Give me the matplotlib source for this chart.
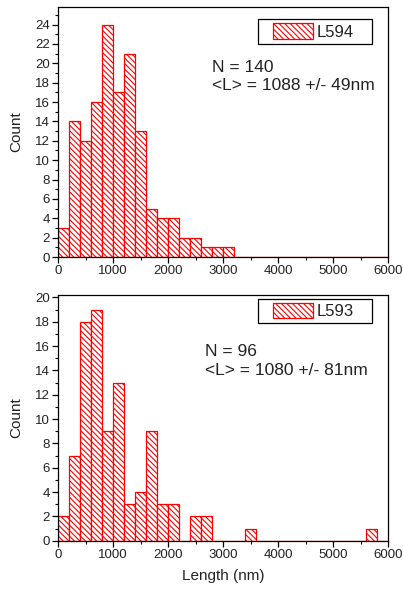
import numpy as np
import matplotlib.pyplot as plt
from matplotlib.ticker import MultipleLocator

plt.rcParams['font.family'] = ['Liberation Sans', 'DejaVu Sans']
plt.rcParams['hatch.linewidth'] = 0.8

# bin left edges (nm), bin width 200
binLefts = list(range(0, 6000, 200))
binWidth = 200

countsL594 = [3, 14, 12, 16, 24, 17, 21, 13, 5, 4, 4, 2, 2, 1, 1, 1,
              0, 0, 0, 0, 0, 0, 0, 0, 0, 0, 0, 0, 0, 0]
countsL593 = [2, 7, 18, 19, 9, 13, 3, 4, 9, 3, 3, 0, 2, 2, 0, 0,
              0, 1, 0, 0, 0, 0, 0, 0, 0, 0, 0, 0, 1, 0]

labels = ['L594', 'L593']
statsText = ['N = 140\n<L> = 1088 +/- 49nm', 'N = 96\n<L> = 1080 +/- 81nm']

fig = plt.figure(figsize=(4.03, 5.91), dpi=100)
axTop = fig.add_axes([0.144, 0.565, 0.819, 0.423])
axBot = fig.add_axes([0.144, 0.085, 0.819, 0.416])

tickColor = '#222222'

# (axes, counts, label, text, ymax, text pos, legend centre, legend box y0, box h)
panels = [
    (axTop, countsL594, labels[0], statsText[0], 25.8, (0.467, 0.79), (0.773, 0.902), 0.852, 0.100),
    (axBot, countsL593, labels[1], statsText[1], 20.2, (0.445, 0.80), (0.773, 0.935), 0.886, 0.098),
]

for ax, counts, lab, txt, ytop, textpos, legc, boxy, boxh in panels:
    ax.bar(binLefts, counts, width=binWidth, align='edge', color='white',
           edgecolor='red', hatch='\\\\\\\\\\\\', linewidth=0.9, label=lab)
    ax.set_xlim(0, 6000)
    ax.set_ylim(0, ytop)
    ax.xaxis.set_major_locator(MultipleLocator(1000))
    ax.xaxis.set_minor_locator(MultipleLocator(500))
    ax.yaxis.set_major_locator(MultipleLocator(2))
    ax.yaxis.set_minor_locator(MultipleLocator(1))
    ax.tick_params(which='major', direction='out', length=4, width=0.9,
                   labelsize=9.5, colors='black', labelcolor=tickColor, pad=2)
    ax.tick_params(which='minor', direction='out', length=2.5, width=0.8)
    for sp in ax.spines.values():
        sp.set_linewidth(0.9)
    ax.set_ylabel('Count', fontsize=11, color=tickColor)
    ax.yaxis.set_label_coords(-0.106, 0.5)
    ax.text(textpos[0], textpos[1], txt, transform=ax.transAxes, fontsize=12.5,
            color=tickColor, va='top', linespacing=1.3)
    leg = ax.legend(loc='center', bbox_to_anchor=legc, frameon=False,
                    fontsize=12, handlelength=2.4, handleheight=1.08,
                    handletextpad=0.25, borderpad=0, borderaxespad=0)
    for t in leg.get_texts():
        t.set_color(tickColor)
    # legend frame, wider than the default padding
    ax.add_patch(plt.Rectangle((0.606, boxy), 0.3455, boxh, transform=ax.transAxes,
                               fill=False, edgecolor='black', linewidth=0.9,
                               zorder=5, clip_on=False))

axBot.set_xlabel('Length (nm)', fontsize=11, color=tickColor, labelpad=6)

plt.savefig('out.png', dpi=100)
plt.close()
